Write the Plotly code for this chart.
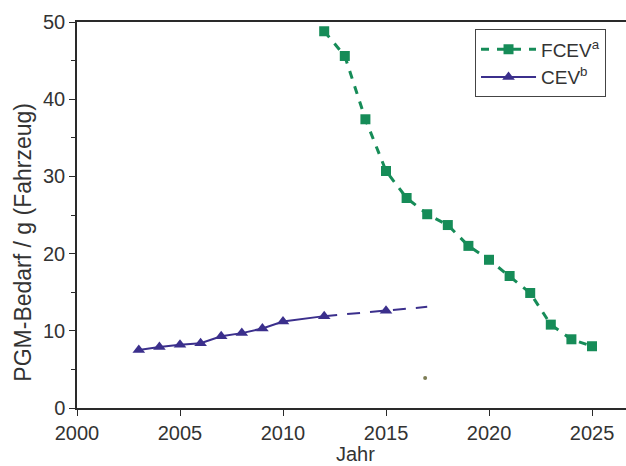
import plotly.graph_objects as go

fcev_years = [2012, 2013, 2014, 2015, 2016, 2017, 2018, 2019, 2020, 2021, 2022, 2023, 2024, 2025]
fcev_values = [48.8, 45.6, 37.4, 30.7, 27.2, 25.1, 23.7, 21.0, 19.2, 17.1, 14.9, 10.8, 8.9, 8.0]

cev_years = [2003, 2004, 2005, 2006, 2007, 2008, 2009, 2010, 2012]
cev_values = [7.5, 7.9, 8.2, 8.4, 9.3, 9.7, 10.3, 11.2, 11.9]

cev_proj_years = [2012, 2015, 2017]
cev_proj_values = [11.9, 12.6, 13.1]
cev_proj_marker_years = [2015]
cev_proj_marker_values = [12.6]

stray_x = [2016.9]
stray_y = [3.9]

x_ticks = [2000, 2005, 2010, 2015, 2020, 2025]
y_ticks = [0, 10, 20, 30, 40, 50]
y_minor = [5, 15, 25, 35, 45]

green = "#168c58"
blue = "#3b2f8c"
ink = "#2a2a2a"
font_family = "Liberation Sans, Arial, sans-serif"

fig = go.Figure()
fig.add_trace(go.Scatter(
    x=fcev_years, y=fcev_values, mode="lines+markers", name="FCEV<sup>a</sup>",
    line=dict(color=green, width=3, dash="8px,8px"),
    marker=dict(symbol="square", size=10, color=green),
))
fig.add_trace(go.Scatter(
    x=cev_years, y=cev_values, mode="lines+markers", name="CEV<sup>b</sup>",
    line=dict(color=blue, width=2),
    marker=dict(symbol="triangle-up", size=11, color=blue),
))
fig.add_trace(go.Scatter(
    x=cev_proj_years, y=cev_proj_values, mode="lines", showlegend=False,
    line=dict(color=blue, width=2, dash="13px,10px"),
))
fig.add_trace(go.Scatter(
    x=cev_proj_marker_years, y=cev_proj_marker_values, mode="markers", showlegend=False,
    marker=dict(symbol="triangle-up", size=11, color=blue),
))
fig.add_trace(go.Scatter(
    x=stray_x, y=stray_y, mode="markers", showlegend=False,
    marker=dict(size=4, color="#7d7d55"),
))

axis_common = dict(
    showgrid=False, zeroline=False, showline=True, linecolor=ink, linewidth=1.5,
    ticks="outside", ticklen=6, tickcolor=ink, tickwidth=1.2,
    tickfont=dict(family=font_family, size=20, color="#333"),
)

fig.update_layout(
    width=626, height=466,
    paper_bgcolor="white", plot_bgcolor="white",
    margin=dict(l=77, r=0, t=22, b=58, autoexpand=False),
    font=dict(family=font_family, color="#333"),
    xaxis=dict(range=[2000, 2026.65], tickvals=x_ticks, mirror=True, **axis_common),
    yaxis=dict(range=[0, 50], tickvals=y_ticks, mirror=False,
               minor=dict(tickvals=y_minor, ticks="outside", ticklen=4, tickcolor=ink),
               **axis_common),
    legend=dict(x=0.725, y=0.981, xanchor="left", yanchor="top",
                bordercolor="#444", borderwidth=1, bgcolor="white",
                font=dict(size=19, color="#333"), itemwidth=55, tracegroupgap=0),
    annotations=[
        dict(text="Jahr", xref="paper", yref="paper", x=0.507, y=-0.119,
             xanchor="center", yanchor="middle", showarrow=False,
             font=dict(size=20, color="#333", family=font_family)),
        dict(text="PGM-Bedarf / g (Fahrzeug)", xref="paper", yref="paper", x=-0.099, y=0.43,
             xanchor="center", yanchor="middle", showarrow=False, textangle=-90,
             font=dict(size=23, color="#333", family=font_family)),
    ],
)

fig.write_html("out.html", config={"displayModeBar": False},
               post_script="document.body.style.margin='0';document.body.style.overflow='hidden';")
